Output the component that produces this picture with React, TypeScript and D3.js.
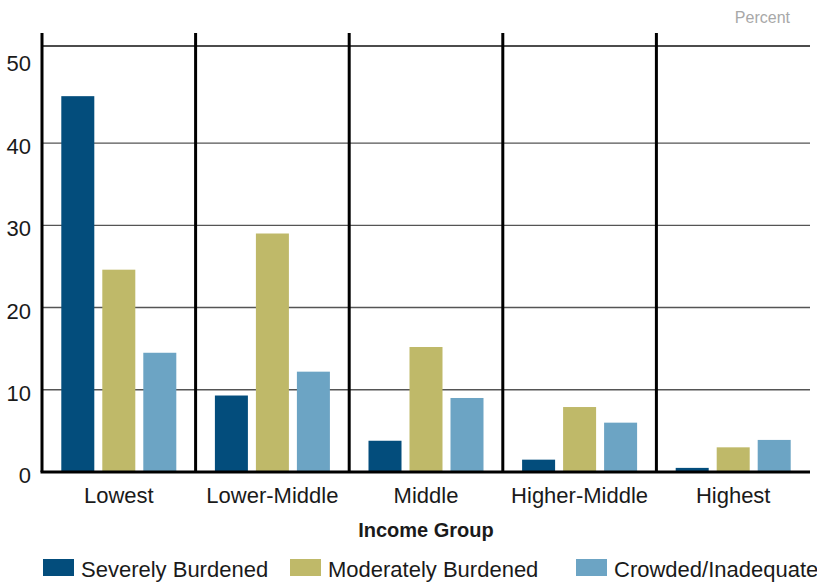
import { scaleBand, scaleLinear } from 'd3';

const incomeGroups = ['Lowest', 'Lower-Middle', 'Middle', 'Higher-Middle', 'Highest'];
const seriesNames = ['Severely Burdened', 'Moderately Burdened', 'Crowded/Inadequate'];
const severelyBurdened = [45.7, 9.3, 3.8, 1.5, 0.5];
const moderatelyBurdened = [24.6, 29.0, 15.2, 7.9, 3.0];
const crowdedInadequate = [14.5, 12.2, 9.0, 6.0, 3.9];
const yTicks = [0, 10, 20, 30, 40, 50];
const gridTicks = [10, 20, 30, 40];

const COLORS = ['#034d7c', '#bfb969', '#6ca4c4'];
const FONT = '"Liberation Sans Narrow", "Arial Narrow", "Liberation Sans", sans-serif';

const WIDTH = 817;
const HEIGHT = 582;
const MARGIN = { top: 46, right: 7, bottom: 110, left: 42 };

export default function App() {
  const innerBottom = HEIGHT - MARGIN.bottom;
  const innerRight = WIDTH - MARGIN.right;
  const series = [severelyBurdened, moderatelyBurdened, crowdedInadequate];

  const x = scaleBand<string>().domain(incomeGroups).range([MARGIN.left, innerRight]);
  const y = scaleLinear().domain([0, 51.8]).range([innerBottom, MARGIN.top]);
  const barW = 33;
  const gap = 8;
  const groupW = barW * 3 + gap * 2;

  return (
    <svg
      width={WIDTH}
      height={HEIGHT}
      style={{ position: 'absolute', left: 0, top: 0, background: '#fff' }}
      fontFamily={FONT}
    >
      <text x={790} y={23} fontSize={16} fill="#a8a8a8" textAnchor="end">
        Percent
      </text>

      {/* top frame + grid */}
      <line x1={MARGIN.left} x2={innerRight} y1={MARGIN.top} y2={MARGIN.top} stroke="#111" strokeWidth={1.3} />
      {gridTicks.map((t) => (
        <line key={t} x1={MARGIN.left} x2={innerRight} y1={y(t)} y2={y(t)} stroke="#555" strokeWidth={1.3} />
      ))}

      {/* bars */}
      {incomeGroups.map((g, gi) => {
        const start = (x(g) ?? 0) + (x.bandwidth() - groupW) / 2;
        return series.map((vals, si) => (
          <rect
            key={`${g}-${si}`}
            x={start + si * (barW + gap)}
            y={y(vals[gi])}
            width={barW}
            height={innerBottom - y(vals[gi])}
            fill={COLORS[si]}
          />
        ));
      })}

      {/* vertical separators */}
      {incomeGroups.map((g) => (
        <line key={`sep-${g}`} x1={x(g)} x2={x(g)} y1={33} y2={innerBottom} stroke="#000" strokeWidth={3} />
      ))}
      <line x1={MARGIN.left - 1.5} x2={innerRight} y1={innerBottom} y2={innerBottom} stroke="#000" strokeWidth={3} />

      {/* y labels */}
      {yTicks.map((t) => (
        <text
          key={`yl-${t}`}
          x={31}
          y={t === 50 ? y(50) + 10 : y(t) + 11}
          fontSize={22}
          fill="#1a1a1a"
          textAnchor="end"
        >
          {t}
        </text>
      ))}

      {/* x labels */}
      {incomeGroups.map((g) => (
        <text
          key={`xl-${g}`}
          x={(x(g) ?? 0) + x.bandwidth() / 2}
          y={503}
          fontSize={22}
          fill="#1a1a1a"
          textAnchor="middle"
        >
          {g}
        </text>
      ))}
      <text x={(MARGIN.left + innerRight) / 2} y={537} fontSize={20} fontWeight="bold" fill="#1a1a1a" textAnchor="middle">
        Income Group
      </text>

      {/* legend */}
      {seriesNames.map((name, i) => {
        const lx = [43, 290, 576][i];
        return (
          <g key={name}>
            <rect x={lx} y={559} width={31} height={17} fill={COLORS[i]} />
            <text x={lx + 38} y={577} fontSize={22} fill="#1a1a1a">
              {name}
            </text>
          </g>
        );
      })}
    </svg>
  );
}
